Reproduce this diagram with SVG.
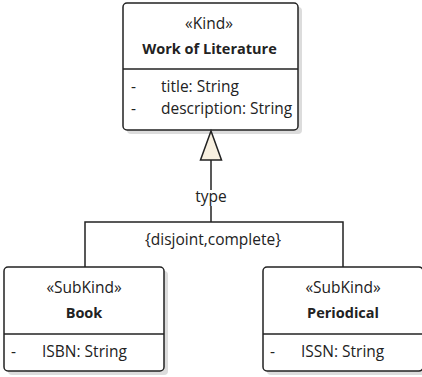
<svg xmlns="http://www.w3.org/2000/svg" width="422" height="377" viewBox="0 0 422 377">
<style>
.shadow{fill:#dcdcdc;}
.box{fill:#ffffff;stroke:#222222;stroke-width:1.5;}
.div{stroke:#222222;stroke-width:1.5;}
.line{stroke:#222222;stroke-width:1.5;fill:none;}
text{font-family:"Open Sans","Liberation Sans",sans-serif;font-size:15.5px;fill:#222222;}
.b{font-weight:bold;font-size:14.5px;}
.c{text-anchor:middle;}
</style>
<rect width="422" height="377" fill="#ffffff"/>
<g id="work">
<rect class="shadow" x="127" y="7" width="175" height="127" rx="4"/>
<rect class="box" x="123" y="3" width="175" height="127" rx="4"/>
<line class="div" x1="123" y1="69" x2="298" y2="69"/>
<text class="c" x="209" y="29">«Kind»</text>
<text class="c b" x="209.5" y="54">Work of Literature</text>
<text x="131" y="92">-</text>
<text x="161" y="92">title: String</text>
<text x="131" y="114">-</text>
<text x="161" y="114">description: String</text>
</g>
<g id="book">
<rect class="shadow" x="8" y="271" width="160" height="104" rx="4"/>
<rect class="box" x="4" y="267" width="160" height="104" rx="4"/>
<line class="div" x1="4" y1="334" x2="164" y2="334"/>
<text class="c" x="84" y="293">«SubKind»</text>
<text class="c b" x="84" y="318">Book</text>
<text x="11" y="357">-</text>
<text x="42" y="357">ISBN: String</text>
</g>
<g id="periodical">
<rect class="shadow" x="267" y="271" width="160" height="104" rx="4"/>
<rect class="box" x="263" y="267" width="160" height="104" rx="4"/>
<line class="div" x1="263" y1="334" x2="423" y2="334"/>
<text class="c" x="343" y="293">«SubKind»</text>
<text class="c b" x="343" y="318">Periodical</text>
<text x="270" y="357">-</text>
<text x="301" y="357">ISSN: String</text>
</g>
<g id="connectors">
<polyline class="line" points="85,267 85,222 343,222 343,267"/>
<line class="line" x1="211" y1="222" x2="211" y2="160"/>
<polygon points="211,131 200.5,160 221.5,160" fill="#f8f0e0" stroke="#222222" stroke-width="1.5" stroke-linejoin="miter"/>
<rect x="195" y="190" width="32" height="16" fill="#ffffff"/>
<text class="c" x="211" y="202">type</text>
<text class="c" x="213" y="245">{disjoint,complete}</text>
</g>
</svg>
